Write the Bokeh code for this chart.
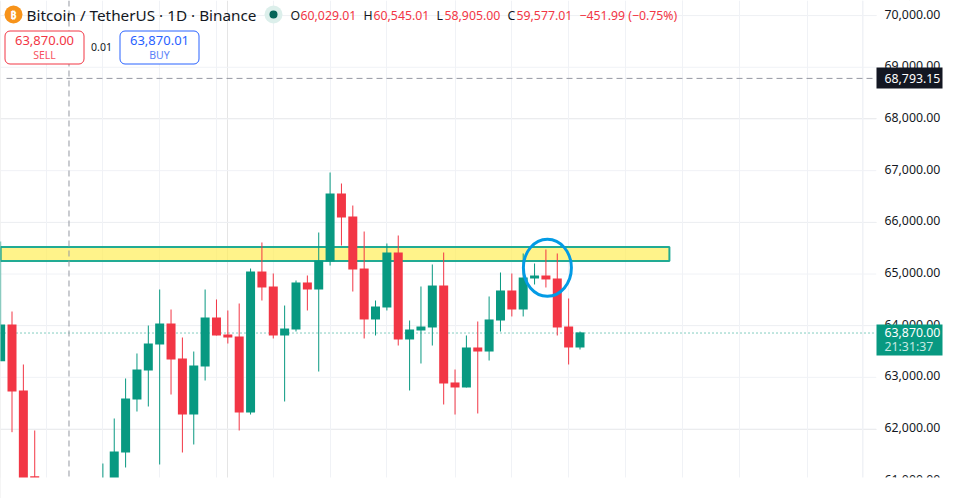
from bokeh.plotting import figure
from bokeh.embed import file_html
from bokeh.resources import INLINE
from bokeh.core.properties import value
from bokeh.models import (Label, BoxAnnotation, FixedTicker, Grid, Range1d, ColumnDataSource)

# ---- data (bar index on the time scale, prices in USDT)
bar = [0, 1, 2, 3, 9, 10, 11, 12, 13, 14, 15, 16, 17, 18, 19, 20, 21, 22, 23, 24, 25, 26, 27, 28, 29,
       30, 31, 32, 33, 34, 35, 36, 37, 38, 39, 40, 41, 42, 43, 44, 45, 46, 47, 48, 49, 50, 51]
open_ = [63313, 64023, 62746, 61085, 60400, 60950, 61546, 62572, 63133, 63636, 64042, 63365, 62281,
         63210, 64158, 63829, 63791, 62320, 65048, 64758, 63810, 63926, 64836, 64700, 65242,
         66558, 66113, 65106, 64120, 64352, 65416, 63733, 63907, 63965, 64777, 62901, 62804,
         63578, 63500, 64100, 64681, 64313, 64913, 64971, 64913, 63984, 63578]
high = [65629, 64274, 63249, 61972, 61333, 62204, 62978, 63462, 64003, 64700, 64313, 63771, 63500,
        64700, 64507, 64294, 64429, 65106, 65610, 65010, 64390, 64874, 64971, 65803, 66964,
        66751, 66325, 65822, 64487, 65590, 65745, 64100, 64758, 65184, 65416, 63152, 63810,
        64081, 64565, 65029, 65010, 65397, 65203, 65474, 65397, 64526, 63887]
low = [63313, 61939, 60500, 60000, 60300, 60800, 61256, 62339, 62436, 61314, 62668, 61546, 61701,
       62939, 63810, 63655, 61972, 62281, 64487, 63752, 62533, 63887, 64294, 63113, 65164,
       65551, 64661, 63752, 63810, 64294, 63616, 62746, 63268, 63616, 62475, 62281, 62804,
       62301, 63326, 63887, 64178, 64178, 64797, 64739, 63810, 63249, 63539]
close = [64023, 62726, 61050, 60400, 60950, 61565, 62591, 63152, 63655, 64042, 63346, 62281, 63229,
         64158, 63810, 63771, 62320, 65048, 64739, 63810, 63945, 64836, 64700, 65261, 66558,
         66093, 65087, 64120, 64371, 65416, 63733, 63926, 63984, 64777, 62881, 62804, 63578,
         63500, 64120, 64681, 64313, 64932, 64971, 64894, 63965, 63578, 63870]

price_ticks = [61000, 62000, 63000, 64000, 65000, 66000, 67000, 68000, 69000, 70000]
price_labels = ["61,000.00", "62,000.00", "63,000.00", "64,000.00", "65,000.00",
                "66,000.00", "67,000.00", "68,000.00", "69,000.00", "70,000.00"]
time_grid = [4, 9, 14, 19, 24, 29, 34, 40, 45, 50, 55, 60, 65, 71, 75.9]

zone_top, zone_bottom = 65522, 65251
zone_start, zone_end = 0, 58.87
circle_bar, circle_price = 48.13, 65120
crosshair_price, crosshair_bar = 68785, 6.0176
last_price = 63858

UP, DOWN = "#089981", "#f23645"
TXT = "#131722"
FONT = "Noto Sans"

# ---- scales: the plot frame fills the whole canvas, so the pixel maps are simple
W, H, FW = 956, 498, 876
X0, XS = 0.14, 11.36
Y0, YS = 273.5, 19.35
LABEL_SHIFT = 30  # the price labels sit about 1.5px above their grid lines

def xd(px):
    return (px - X0) / XS

def yd(py):
    return 65000 + (Y0 - py) * YS

p = figure(width=W, height=H, frame_width=W, frame_height=H, output_backend="svg",
           toolbar_location=None, x_axis_location=None, y_axis_location=None,
           x_range=Range1d(xd(0), xd(W)), y_range=Range1d(yd(H), yd(0)),
           min_border_left=0, min_border_right=0, min_border_top=0, min_border_bottom=0,
           outline_line_color=None, background_fill_color="white", border_fill_color="white")
p.styles = {"position": "absolute", "left": "0", "top": "0"}

GRID = "#f0f2f6"
p.add_layout(Grid(dimension=0, ticker=FixedTicker(ticks=time_grid), grid_line_color=GRID,
                  bounds=(yd(H), yd(0))))
p.segment(x0=[xd(0)] * len(price_ticks), x1=[xd(FW)] * len(price_ticks), y0=price_ticks,
          y1=price_ticks, line_color=GRID, line_width=1)
# the vertical grid must stop at the price scale: paint the scale column white over it
p.quad(left=[xd(FW)], right=[xd(W)], top=[yd(0)], bottom=[yd(H)], fill_color="white", line_color=None)
p.segment(x0=[xd(862.5)], x1=[xd(862.5)], y0=[yd(0)], y1=[yd(H)], line_color=GRID, line_width=1)

# last price dotted line, under the candles
p.segment(x0=[xd(0)], x1=[xd(FW)], y0=[last_price], y1=[last_price], line_color=UP, line_width=1,
          line_dash="1 3")

# highlighted zone
p.quad(left=[zone_start], right=[zone_end], top=[zone_top], bottom=[zone_bottom],
       fill_color="#ffee58", fill_alpha=0.7, line_color="#22ab94", line_width=2)

# candles
colors = [UP if c >= o else DOWN for o, c in zip(open_, close)]
src = ColumnDataSource(dict(x=bar, o=open_, h=high, l=low, c=close,
                            top=[max(a, b) for a, b in zip(open_, close)],
                            bot=[min(a, b) for a, b in zip(open_, close)], col=colors))
p.segment(x0="x", x1="x", y0="h", y1="l", source=src, line_color="col", line_width=1)
p.vbar(x="x", top="top", bottom="bot", width=9 / XS, source=src,
       fill_color="col", line_color=None)

# drawn ellipse
p.ellipse(x=[circle_bar], y=[circle_price], width=[48 / XS], height=[57 * YS], fill_color=None,
          line_color="#039be5", line_width=3)

# crosshair
p.segment(x0=[xd(6)], x1=[xd(FW)], y0=[crosshair_price], y1=[crosshair_price],
          line_color="#9598a1", line_width=1, line_dash="6 4")
p.segment(x0=[crosshair_bar], x1=[crosshair_bar], y0=[yd(0)], y1=[yd(H)],
          line_color="#9598a1", line_width=1, line_dash="6 4")

# price scale labels
p.text(x=[xd(884)] * len(price_ticks), y=[t + LABEL_SHIFT for t in price_ticks], text=price_labels,
       text_font=value(FONT), text_font_size="12.3px", text_color=TXT, text_align="left",
       text_baseline="middle")

# white strip under the chart, hiding the lower half of the last price label
p.quad(left=[xd(0)], right=[xd(W)], top=[yd(477)], bottom=[yd(H)], fill_color="white", line_color=None)

# price tags
p.quad(left=[xd(876)], right=[xd(942)], top=[yd(67)], bottom=[yd(88)], fill_color=TXT, line_color=None)
p.quad(left=[xd(876)], right=[xd(942)], top=[yd(324)], bottom=[yd(355)], fill_color=UP, line_color=None)

def text(px, py, s, color=TXT, size=12.3, align="left", weight="normal", **kw):
    lab = Label(x=px, y=H - py, x_units="screen", y_units="screen", text=s, text_color=color,
                text_font=FONT, text_font_size=f"{size}px", text_align=align,
                text_baseline="middle", text_font_style=weight, **kw)
    p.add_layout(lab)
    return lab

def box(l, r, t, b, fill, line=None, radius=0):
    p.add_layout(BoxAnnotation(left=l, right=r, top=H - t, bottom=H - b, left_units="screen",
                               right_units="screen", top_units="screen", bottom_units="screen",
                               fill_color=fill, fill_alpha=1, line_color=line, line_width=1,
                               line_alpha=1, border_radius=radius))

text(884, 77.5, "68,793.15", "#ffffff")
text(884, 332, "63,870.00", "#ffffff")
text(884, 346, "21:31:37", "#c6e9e2")

# header
p.scatter(x=[xd(13)], y=[yd(14)], size=18, marker="circle", fill_color="#f7931a", line_color=None)
text(13, 14, "₿", "#ffffff", 11, "center", "bold")
p.scatter(x=[xd(273)], y=[yd(14)], size=18, marker="circle", fill_color="#dcefeb", line_color=None)
p.scatter(x=[xd(273)], y=[yd(14)], size=8, marker="circle", fill_color="#07665a", line_color=None)
text(26, 14.5, "Bitcoin / TetherUS · 1D · Binance", TXT, 15.3)

text(290, 15, "O", TXT)
text(300, 15, "60,029.01", DOWN)
text(363, 15, "H", TXT)
text(373, 15, "60,545.01", DOWN)
text(436, 15, "L", TXT)
text(444, 15, "58,905.00", DOWN)
text(507, 15, "C", TXT)
text(516, 15, "59,577.01", DOWN)
text(579, 15, "−451.99 (−0.75%)", DOWN)

# buy / sell
box(4.5, 83.5, 30.5, 63.5, "white", DOWN, 5)
box(119.5, 198.5, 30.5, 63.5, "white", "#2962ff", 5)
text(44, 40, "63,870.00", DOWN, 13, "center")
text(44, 54.5, "SELL", "#f7525f", 10.5, "center")
text(101, 46.5, "0.01", TXT, 10.5, "center")
text(159, 40, "63,870.01", "#2962ff", 13, "center")
text(159, 54.5, "BUY", "#5b82f7", 10.5, "center")

open("out.html", "w").write(file_html(p, INLINE))
